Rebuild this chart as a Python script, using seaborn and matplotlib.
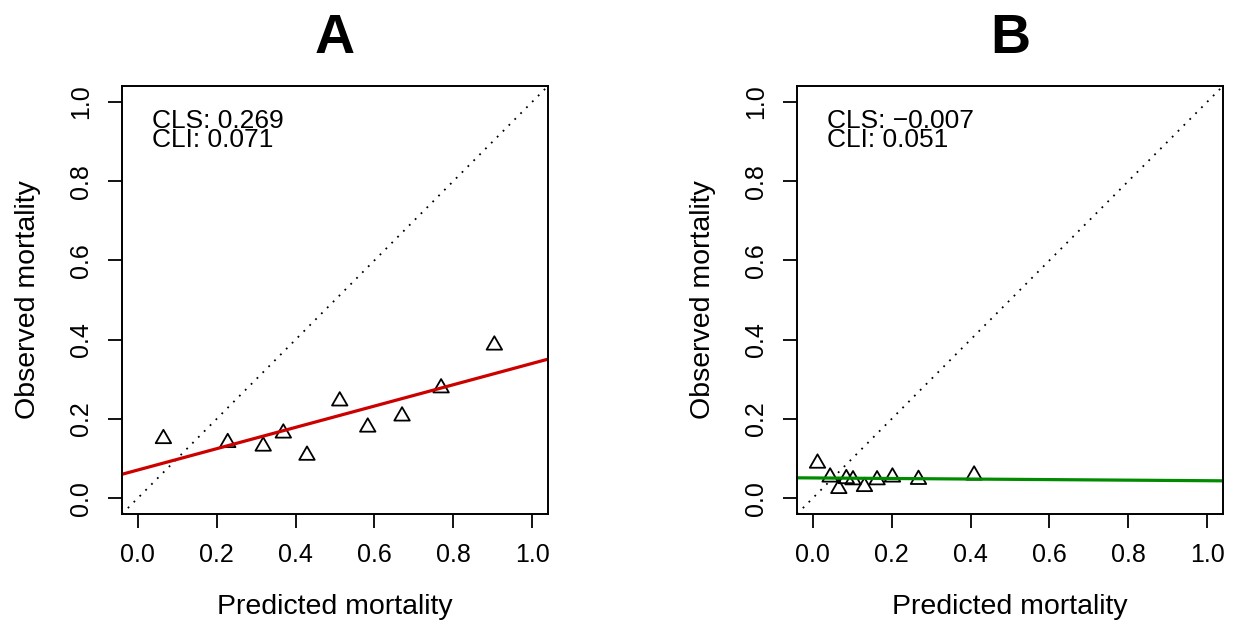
import numpy as np
import matplotlib
matplotlib.use("Agg")
import matplotlib.pyplot as plt
from matplotlib.path import Path
from matplotlib.ticker import FixedLocator, FormatStrFormatter
import seaborn as sns

# panel A
pred_a = [0.065, 0.228, 0.318, 0.369, 0.429, 0.512, 0.583, 0.670, 0.769, 0.904]
obs_a = [0.150, 0.140, 0.131, 0.164, 0.108, 0.245, 0.179, 0.207, 0.278, 0.386]
cls_a, cli_a = 0.269, 0.071

# panel B
pred_b = [0.012, 0.044, 0.066, 0.085, 0.102, 0.131, 0.163, 0.202, 0.268, 0.409]
obs_b = [0.088, 0.053, 0.024, 0.049, 0.046, 0.029, 0.046, 0.053, 0.047, 0.058]
cls_b, cli_b = -0.007, 0.051

ticks = [0.0, 0.2, 0.4, 0.6, 0.8, 1.0]

sns.set_theme(style="white")
plt.rcParams["font.family"] = ["Liberation Sans", "DejaVu Sans"]
plt.rcParams["text.color"] = "black"
plt.rcParams["axes.labelcolor"] = "black"
plt.rcParams["xtick.color"] = "black"
plt.rcParams["ytick.color"] = "black"

# open triangle like R's pch=2 (centred on its centroid)
tri = Path([(0, 0.577), (-0.5, -0.289), (0.5, -0.289), (0, 0.577)],
           [Path.MOVETO, Path.LINETO, Path.LINETO, Path.CLOSEPOLY])


def fmt(v):
    return f"{v:.3f}".replace("-", "\u2212")


def draw_panel(ax, pred, obs, cls, cli, color, title):
    ax.set_xlim(-0.04, 1.04)
    ax.set_ylim(-0.04, 1.04)
    ax.axline((0, 0), slope=1, color="black", lw=1.3, ls=(0, (1, 3.6)))
    ax.axline((0, cli), slope=cls, color=color, lw=2.3)
    sns.scatterplot(x=pred, y=obs, ax=ax, marker=tri, s=165,
                    facecolor="none", edgecolor="black", linewidth=1.3)
    ax.text(0.037, 0.934, f"CLS: {fmt(cls)}", fontsize=19, ha="left", va="baseline")
    ax.text(0.037, 0.887, f"CLI: {fmt(cli)}", fontsize=19, ha="left", va="baseline")

    ax.xaxis.set_major_locator(FixedLocator(ticks))
    ax.yaxis.set_major_locator(FixedLocator(ticks))
    ax.xaxis.set_major_formatter(FormatStrFormatter("%.1f"))
    ax.yaxis.set_major_formatter(FormatStrFormatter("%.1f"))
    ax.tick_params(axis="both", direction="out", length=10, width=1.3,
                   color="black", labelsize=18, pad=11, bottom=True, left=True)
    for lab in ax.get_yticklabels():
        lab.set_rotation(90)
        lab.set_va("center")
    for sp in ax.spines.values():
        sp.set_color("black")
        sp.set_linewidth(1.4)

    ax.set_xlabel("Predicted mortality", fontsize=20.5, labelpad=19)
    ax.set_ylabel("Observed mortality", fontsize=20.5, labelpad=20)
    ax.set_title(title, fontsize=40, fontweight="bold", pad=24)


fig = plt.figure(figsize=(12.4, 6.24), dpi=100)
ax_a = fig.add_axes([122 / 1240, 1 - 514 / 624, 426 / 1240, 428 / 624])
ax_b = fig.add_axes([797 / 1240, 1 - 514 / 624, 426 / 1240, 428 / 624])

draw_panel(ax_a, pred_a, obs_a, cls_a, cli_a, "#CD0000", "A")
draw_panel(ax_b, pred_b, obs_b, cls_b, cli_b, "#008B00", "B")

fig.savefig("out.png", dpi=100, facecolor="white")
